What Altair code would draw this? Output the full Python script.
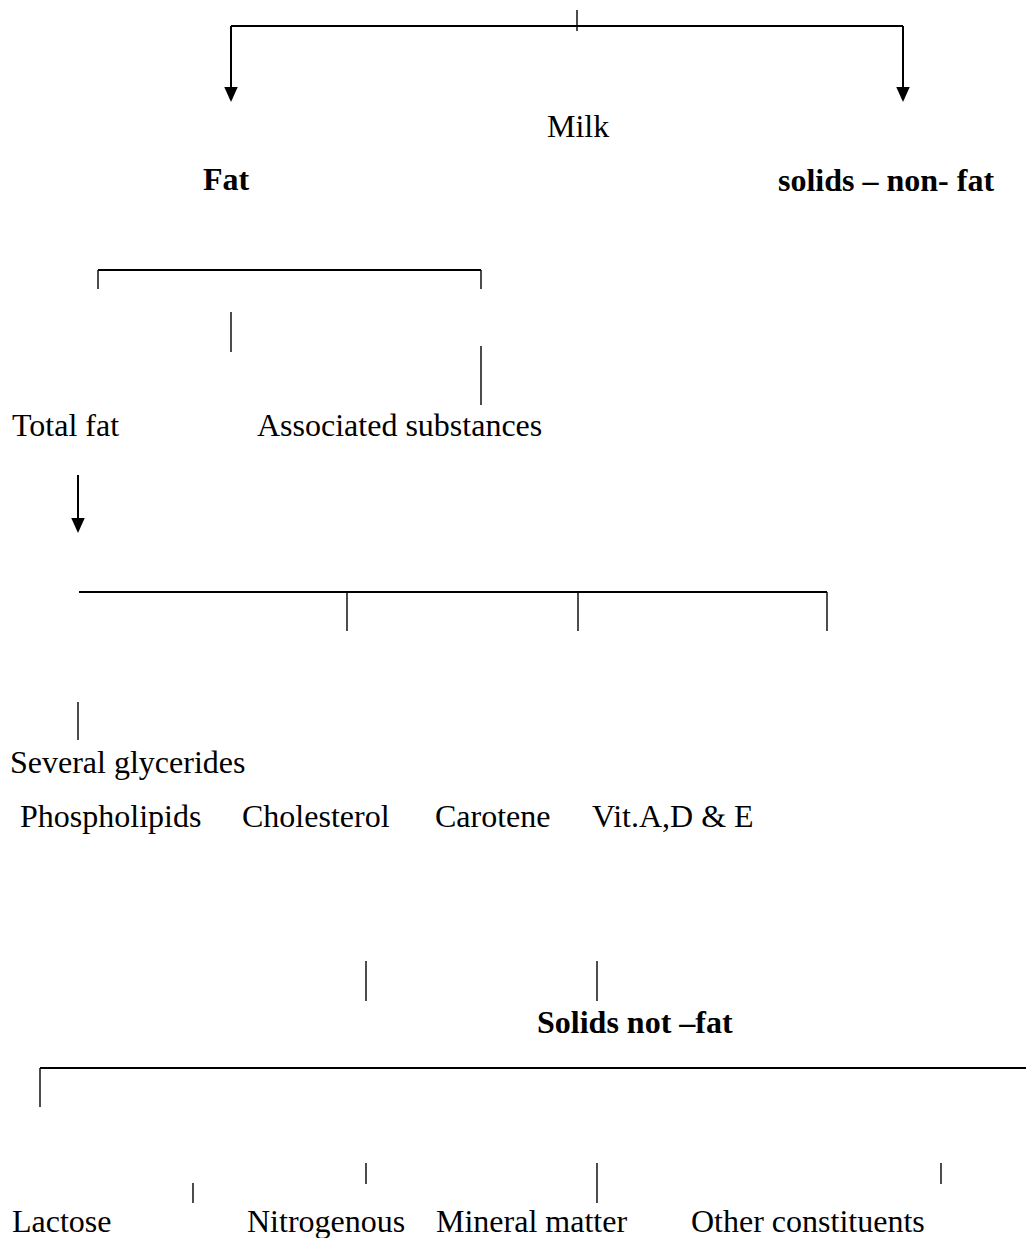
import altair as alt
import pandas as pd

# ---- text nodes (left x, baseline y in page pixels) ----
labels = ["Milk", "Fat", "solids \u2013 non- fat", "Total fat", "Associated substances",
          "Several glycerides", "Phospholipids", "Cholesterol", "Carotene", "Vit.A,D & E",
          "Solids not \u2013fat", "Lactose", "Nitrogenous", "Mineral matter", "Other constituents"]
label_x = [547, 203, 778, 12, 257, 10, 20, 242, 435, 592, 537, 12, 247, 436, 691]
label_y = [137, 190, 191, 436, 436, 773, 827, 827, 827, 827, 1033, 1232, 1232, 1232, 1232]
label_bold = [False, True, True, False, False, False, False, False, False, False,
              True, False, False, False, False]

# ---- connector segments ----
seg_x1 = [231, 98, 79, 40,
          577, 231, 903, 98, 481, 231, 481, 78, 347, 578, 827, 78, 366, 597, 40, 366, 597, 941, 193]
seg_y1 = [26, 270, 592, 1068,
          10, 26, 26, 270, 270, 312, 346, 475, 592, 592, 592, 702, 961, 961, 1068, 1163, 1163, 1163, 1183]
seg_x2 = [903, 481, 827, 1034,
          577, 231, 903, 98, 481, 231, 481, 78, 347, 578, 827, 78, 366, 597, 40, 366, 597, 941, 193]
seg_y2 = [26, 270, 592, 1068,
          31, 90, 90, 289, 289, 352, 405, 521, 631, 631, 631, 740, 1001, 1001, 1107, 1184, 1203, 1184, 1203]
seg_w = [2, 2, 2, 2,
         1.4, 2, 2, 1.4, 1.4, 1.4, 1.4, 2, 1.4, 1.4, 1.4, 1.4, 1.4, 1.4, 1.4, 1.4, 1.4, 1.4, 1.4]

# ---- arrow tips ----
tip_x = [231, 903, 78]
tip_y = [102, 102, 533]

W, H = 1018, 1230
xs = alt.Scale(domain=[8, 8 + W], range=[0, W], nice=False, zero=False)
ys = alt.Scale(domain=[8, 8 + H], range=[0, H], nice=False, zero=False)

texts = pd.DataFrame({"label": labels, "x": label_x, "y": label_y, "bold": label_bold})
segs = pd.DataFrame({"x1": seg_x1, "y1": seg_y1, "x2": seg_x2, "y2": seg_y2, "w": seg_w})
tips = pd.DataFrame({"x": tip_x, "y": tip_y})

rules = alt.Chart(segs).mark_rule(color="black").encode(
    x=alt.X("x1:Q", scale=xs, axis=None),
    y=alt.Y("y1:Q", scale=ys, axis=None),
    x2="x2:Q",
    y2="y2:Q",
    strokeWidth=alt.StrokeWidth("w:Q", scale=None),
)

heads = alt.Chart(tips).mark_point(
    shape="M-0.9,-2L0.9,-2L0,0Z", filled=True, color="black", opacity=1, size=225, strokeWidth=0
).encode(
    x=alt.X("x:Q", scale=xs, axis=None),
    y=alt.Y("y:Q", scale=ys, axis=None),
)

def text_layer(bold):
    return alt.Chart(texts).transform_filter(
        alt.datum.bold == bold
    ).mark_text(
        align="left", baseline="alphabetic", font="Liberation Serif", fontSize=32,
        fontWeight="bold" if bold else "normal", color="black"
    ).encode(
        x=alt.X("x:Q", scale=xs, axis=None),
        y=alt.Y("y:Q", scale=ys, axis=None),
        text="label:N",
    )

chart = alt.layer(rules, heads, text_layer(False), text_layer(True)).properties(
    width=W, height=H, padding=0, autosize=alt.AutoSizeParams(type="none"), background="white"
).configure_view(strokeWidth=0)

chart.save("out.html", embed_options={"renderer": "svg", "actions": False})
